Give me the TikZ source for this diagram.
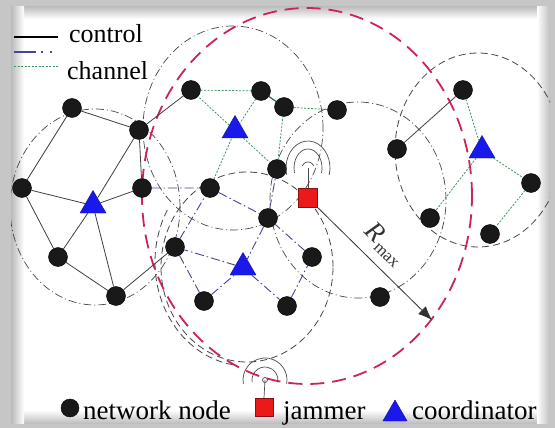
\documentclass[tikz,border=0pt]{standalone}
\usepackage{fontspec}
\setmainfont{Liberation Serif}
\usepackage{tikz}
\usetikzlibrary{arrows.meta,shapes.geometric,positioning,calc}

\definecolor{rangered}{RGB}{205,35,85}
\definecolor{jamfill}{RGB}{235,25,25}
\definecolor{coordblue}{RGB}{25,25,235}
\definecolor{ctrlblue}{RGB}{70,70,150}
\definecolor{changreen}{RGB}{60,150,100}
\definecolor{rangegray}{RGB}{70,70,70}

\begin{document}
\begin{tikzpicture}[x=1pt,y=1pt,
  nnode/.style={circle,fill=black!90,draw=black,inner sep=0pt,minimum size=19pt},
  coord/.style={regular polygon,regular polygon sides=3,fill=coordblue,draw=coordblue!70!black,inner sep=0pt,minimum size=30pt},
  jam/.style={rectangle,fill=jamfill,draw=jamfill!60!black,inner sep=0pt,minimum size=19pt},
  ctrl/.style={black!75,line width=0.8pt},
  bline/.style={ctrlblue,line width=0.9pt,dash pattern=on 9pt off 3pt on 1.5pt off 3pt},
  chan/.style={changreen,line width=0.8pt,dash pattern=on 2pt off 1.5pt},
  rdot/.style={rangegray,line width=0.7pt,dash pattern=on 8pt off 3pt on 1pt off 3pt},
  rdash/.style={rangegray,line width=0.8pt,dash pattern=on 7pt off 4pt},
  rmax/.style={rangered,line width=1.8pt,dash pattern=on 14pt off 8pt},
  wave/.style={black!70,line width=0.7pt},
  lbl/.style={font=\fontsize{26}{30}\selectfont,inner sep=0pt}]

\useasboundingbox (0,0) rectangle (555,-428);
\fill[gray!45] (0,0) rectangle (555,-428);
\fill[white] (11,-7) rectangle (550,-423);
\shade[top color=gray!50,bottom color=white] (11,-7) rectangle (550,-19);
\shade[top color=white,bottom color=gray!50] (11,-410) rectangle (550,-423);
\shade[left color=gray!55,right color=white] (11,-7) rectangle (24,-423);
\shade[left color=white,right color=gray!50] (537,-7) rectangle (550,-423);

\begin{scope}
\clip (11,-7) rectangle (550,-423);
\draw[rdot] (95,-207) ellipse (85pt and 98pt);
\draw[rdot] (233,-128) ellipse (90pt and 102pt);
\draw[rdash] (247,-267) ellipse (86pt and 95pt);
\draw[rdash] (247,-262) ++(150:92pt and 104pt) arc (150:262:92pt and 104pt);
\draw[rdot] (358,-200) ellipse (88pt and 98pt);
\draw[rdash] (478,-150) ellipse (83pt and 97pt);
\draw[rmax] (307,-196) ellipse (165pt and 188pt);
\end{scope}

\node[nnode] (N1) at (72,-108) {};
\node[nnode] (N2) at (139,-130) {};
\node[nnode] (N3) at (22,-188) {};
\node[nnode] (N4) at (142,-188) {};
\node[nnode] (N5) at (58,-257) {};
\node[nnode] (N6) at (116,-296) {};
\node[nnode] (N7) at (191,-90) {};
\node[nnode] (N8) at (261,-91) {};
\node[nnode] (N9) at (284,-107) {};
\node[nnode] (N10) at (337,-110) {};
\node[nnode] (N11) at (277,-169) {};
\node[nnode] (N12) at (210,-188) {};
\node[nnode] (N13) at (268,-218) {};
\node[nnode] (N14) at (175,-247) {};
\node[nnode] (N15) at (204,-301) {};
\node[nnode] (N16) at (312,-257) {};
\node[nnode] (N17) at (287,-306) {};
\node[nnode] (N18) at (380,-297) {};
\node[nnode] (N19) at (463,-90) {};
\node[nnode] (N20) at (397,-149) {};
\node[nnode] (N21) at (430,-218) {};
\node[nnode] (N22) at (531,-183) {};
\node[nnode] (N23) at (490,-234) {};

\node[coord] (C1) at (93,-205.5) {};
\node[coord] (C2) at (235,-130.5) {};
\node[coord] (C3) at (243,-267.5) {};
\node[coord] (C4) at (482,-150.5) {};

\draw[ctrl] (N3) -- (N1) -- (N2) -- (N4) -- (C1) -- (N3) -- (N5) -- (N6) -- (C1) -- (N2) -- (N7);
\draw[ctrl] (C1) -- (N5) (N6) -- (N14) (N19) -- (N20);
\draw[bline] (N4) -- (N12) -- (N13) -- (C3) -- (N14) -- (N12) (N14) -- (N15) -- (C3) -- (N17) -- (N16) -- (N13) -- (N11);
\draw[chan] (N12) -- (C2) -- (N7) -- (N8) -- (C2) -- (N11) -- (N9) -- (N10) (N19) -- (C4) -- (N21) (C4) -- (N22) -- (N23);
\draw[changreen!70!black,line width=1.2pt] (N8) -- (N9);

\node[jam] (J) at (308,-198) {};
\coordinate (A1) at (308,-168);
\coordinate (T) at (432,-320);
\draw[wave] (J.north) -- (A1);
\draw[wave] (A1) ++(20:6pt and 6pt) arc (20:160:6pt and 6pt);
\draw[wave] (A1) ++(-15:14pt and 19pt) arc (-15:195:14pt and 19pt);
\draw[wave] (A1) ++(-15:22pt and 27pt) arc (-15:195:22pt and 27pt);
\draw[black!80,line width=0.8pt,-{Latex[length=14pt,width=11pt]}] (J) -- node[sloped,above=9pt,pos=0.46,inner sep=0pt] {\fontsize{27}{30}\selectfont\textit{R}\kern1pt\raisebox{-0.4ex}{\fontsize{17}{20}\selectfont max}} (T);

\coordinate (L1a) at (14,-37);
\coordinate (L1b) at (58,-37);
\coordinate (L2a) at (14,-52);
\coordinate (L2b) at (58,-52);
\coordinate (L3a) at (14,-67);
\coordinate (L3b) at (58,-67);
\draw[black,line width=1.2pt] (L1a) -- (L1b);
\draw[bline,line width=1.2pt,dash pattern=on 22pt off 5pt on 2pt off 7pt on 2pt off 7pt] (L2a) -- (L2b);
\draw[chan,line width=1pt] (L3a) -- (L3b);
\node[lbl,anchor=base west] (Tctrl) at (69,-43) {control};
\node[lbl,anchor=base west] (Tchan) at (67,-80) {channel};

\node[nnode,minimum size=18pt] (LN) at (70,-408) {};
\node[lbl,anchor=base west,font=\fontsize{27}{30}\selectfont] (TN) at (83,-419) {network node};
\node[jam,minimum size=18pt] (LJ) at (264,-407) {};
\coordinate (A2) at (265,-380);
\draw[wave] (LJ.north) -- (A2);
\draw[wave] (A2) circle (2.5pt);
\draw[wave] (A2) ++(-10:13pt and 13pt) arc (-10:190:13pt and 13pt);
\draw[wave] (A2) ++(-10:22pt and 22pt) arc (-10:190:22pt and 22pt);
\node[lbl,anchor=base west,font=\fontsize{27}{30}\selectfont] (TJ) at (283,-419) {jammer};
\node[coord,minimum size=28pt] (LC) at (395,-414) {};
\node[lbl,anchor=base west,font=\fontsize{27}{30}\selectfont] (TC) at (412,-419) {coordinator};
\end{tikzpicture}
\end{document}
